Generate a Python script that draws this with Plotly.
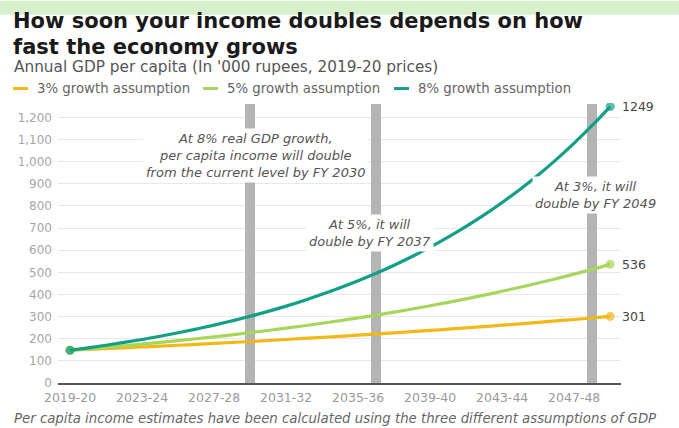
import plotly.graph_objects as go

years = ["2019-20", "2020-21", "2021-22", "2022-23", "2023-24", "2024-25", "2025-26", "2026-27",
         "2027-28", "2028-29", "2029-30", "2030-31", "2031-32", "2032-33", "2033-34", "2034-35",
         "2035-36", "2036-37", "2037-38", "2038-39", "2039-40", "2040-41", "2041-42", "2042-43",
         "2043-44", "2044-45", "2045-46", "2046-47", "2047-48", "2048-49", "2049-50"]

growth3 = [148, 151.5, 155.2, 158.9, 162.7, 166.6, 170.6, 174.7, 178.8, 183.1, 187.5, 192.0,
           196.6, 201.3, 206.1, 211.0, 216.1, 221.3, 226.6, 232.0, 237.5, 243.2, 249.0, 255.0,
           261.1, 267.4, 273.8, 280.3, 287.0, 293.9, 301]
growth5 = [148, 154.5, 161.3, 168.3, 175.7, 183.4, 191.4, 199.8, 208.6, 217.8, 227.3, 237.3,
           247.7, 258.5, 269.8, 281.7, 294.0, 306.9, 320.4, 334.4, 349.1, 364.4, 380.3, 397.0,
           414.4, 432.6, 451.5, 471.3, 492.0, 513.5, 536]
growth8 = [148, 158.9, 170.6, 183.2, 196.7, 211.2, 226.8, 243.5, 261.4, 280.7, 301.4, 323.6,
           347.4, 373.0, 400.5, 430.0, 461.7, 495.7, 532.3, 571.5, 613.6, 658.8, 707.4, 759.5,
           815.5, 875.6, 940.1, 1009.4, 1083.8, 1163.7, 1249]

series_names = ["3% growth assumption", "5% growth assumption", "8% growth assumption"]
series_colors = ["#F2B818", "#A6D65A", "#11A085"]
end_labels = ["301", "536", "1249"]

marker_years = ["2029-30", "2036-37", "2048-49"]
marker_heights = [1262, 1262, 1262]

tick_years = ["2019-20", "2023-24", "2027-28", "2031-32", "2035-36", "2039-40", "2043-44", "2047-48"]

callouts = [
    ("At 8% real GDP growth,<br>per capita income will double<br>from the current level by FY 2030", 10.28, 1028),
    ("At 5%, it will<br>double by FY 2037", 16.67, 677),
    ("At 3%, it will<br>double by FY 2049", 29.2, 848),
]

W, H = 679, 428
L, R, T, B = 58, 58, 102.5, 44.7
PW, PH = W - L - R, H - T - B


def px(x):
    return (x - L) / PW


def py(y):
    return (H - B - y) / PH


BODY = "DejaVu Sans, Verdana, sans-serif"

fig = go.Figure()

fig.add_trace(go.Bar(x=marker_years, y=marker_heights, width=0.55,
                     marker=dict(color="#b4b4b4", line=dict(width=0)),
                     showlegend=False, hoverinfo="skip"))

for name, vals, col in zip(series_names, [growth3, growth5, growth8], series_colors):
    sizes = [0] * len(vals)
    sizes[0] = 9
    sizes[-1] = 9
    fig.add_trace(go.Scatter(x=years, y=vals, mode="lines+markers", name=name,
                             line=dict(color=col, width=3.2, shape="spline"),
                             marker=dict(color=col, size=sizes, line=dict(width=0)),
                             showlegend=False))

annotations = []
shapes = []

# top band
shapes.append(dict(type="rect", xref="paper", yref="paper", x0=px(0), x1=px(W), y0=py(14), y1=py(0),
                   fillcolor="#d6f0cc", line=dict(width=0), layer="below"))

# title and subtitle
TITLE_FONT = dict(family="DejaVu Sans, sans-serif", size=21, color="#1a1a1a")
annotations.append(dict(text="<b>How soon your income doubles depends on how</b>", xref="paper", yref="paper",
                        x=px(12), y=py(33.5), xanchor="left", yanchor="bottom", showarrow=False,
                        borderpad=0, font=TITLE_FONT))
annotations.append(dict(text="<b>fast the economy grows</b>", xref="paper", yref="paper",
                        x=px(12), y=py(33.5), xanchor="left", yanchor="top", showarrow=False,
                        borderpad=0, font=TITLE_FONT))
annotations.append(dict(text="Annual GDP per capita (In '000 rupees, 2019-20 prices)", xref="paper", yref="paper",
                        x=px(12), y=py(66), xanchor="left", yanchor="middle", showarrow=False,
                        font=dict(family=BODY, size=15.3, color="#555555")))

# legend
leg_x = [13, 203, 394]
for lx, name, col in zip(leg_x, series_names, series_colors):
    shapes.append(dict(type="line", xref="paper", yref="paper", x0=px(lx), x1=px(lx + 15),
                       y0=py(88), y1=py(88), line=dict(color=col, width=3)))
    annotations.append(dict(text=name, xref="paper", yref="paper", x=px(lx + 22), y=py(88),
                            xanchor="left", yanchor="middle", showarrow=False,
                            font=dict(family=BODY, size=13.3, color="#666666")))

# callouts
for txt, cx, cy in callouts:
    annotations.append(dict(text="<i>" + txt + "</i>", xref="x", yref="y", x=cx, y=cy,
                            xanchor="center", yanchor="middle", showarrow=False, align="center",
                            bgcolor="white", borderpad=2,
                            font=dict(family=BODY, size=13, color="#555555")))

# end labels
for vals, lab in zip([growth3, growth5, growth8], end_labels):
    annotations.append(dict(text=lab, xref="x", yref="y", x=len(vals) - 1, y=vals[-1],
                            xanchor="left", yanchor="middle", xshift=10, showarrow=False,
                            font=dict(family=BODY, size=12.5, color="#444444")))

# footnote
annotations.append(dict(text="<i>Per capita income estimates have been calculated using the three different assumptions of GDP<br>growth and are based on UN population projections</i>",
                        xref="paper", yref="paper", x=px(12), y=py(409), xanchor="left", yanchor="top",
                        showarrow=False, align="left",
                        font=dict(family=BODY, size=13.3, color="#666666")))

fig.update_layout(
    width=W, height=H,
    margin=dict(l=L, r=R, t=T, b=B, pad=0),
    paper_bgcolor="white", plot_bgcolor="white",
    showlegend=False,
    bargap=0,
    shapes=shapes,
    annotations=annotations,
    xaxis=dict(type="category", categoryorder="array", categoryarray=years,
               range=[-0.67, 30.6], tickmode="array", tickvals=tick_years, ticktext=tick_years,
               showgrid=False, showline=True, linecolor="#555555", linewidth=1.5,
               ticks="", ticklabelstandoff=2,
               tickfont=dict(family=BODY, size=12.5, color="#9a9a9a"), fixedrange=True),
    yaxis=dict(range=[0, 1265], tickmode="array", tickvals=list(range(0, 1201, 100)),
               tickformat=",", showgrid=True, gridcolor="#e8e8e8", gridwidth=1,
               zeroline=False, showline=False, ticks="", ticklabelstandoff=5,
               tickfont=dict(family=BODY, size=12, color="#a5a5a5"), fixedrange=True),
)

fig.write_html("out.html")
